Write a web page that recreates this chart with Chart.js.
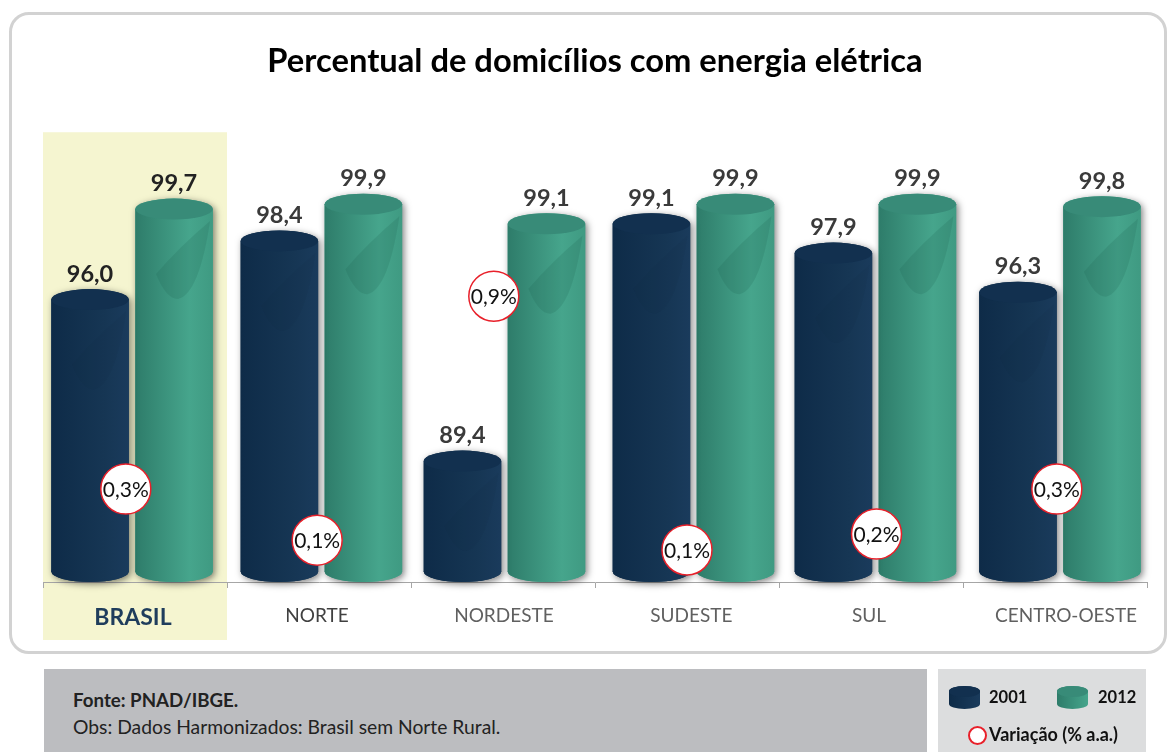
<!DOCTYPE html>
<html>
<head>
<meta charset="utf-8">
<title>Percentual de domicílios com energia elétrica</title>
<script src="https://cdn.jsdelivr.net/npm/chart.js@4"></script>
<style>
  html, body { margin: 0; padding: 0; background: #fff; }
  body { position: relative; width: 1168px; height: 752px; overflow: hidden; font-family: Lato, sans-serif; }
  #panel { position: absolute; left: 9px; top: 12px; width: 1152px; height: 636px; border: 3px solid #d2d2d2; border-radius: 20px; }
  #myChart { position: absolute; left: 0; top: 0; }
  #fonte { position: absolute; left: 44px; top: 669px; width: 883px; height: 83px; background: #bcbdc0; color: #222; font-size: 19.3px; }
  #fonte div { position: absolute; left: 29px; white-space: nowrap; }
  #legenda { position: absolute; left: 938px; top: 669px; width: 208px; height: 83px; background: #dcddde; color: #111; font-size: 16.5px; font-weight: bold; }
  #legenda span { position: absolute; white-space: nowrap; }
  .cyl { width: 31px; height: 23px; border-radius: 50% / 22%; }
  .cyl::before { content: ""; position: absolute; left: 0; top: 0; width: 31px; height: 11px; border-radius: 50%; }
  .navy { background: linear-gradient(90deg, #0e2b48, #1a3b5c); }
  .navy::before { background: #12304f; }
  .teal { background: linear-gradient(90deg, #2e7c6a, #46a58c); }
  .teal::before { background: #388b78; }
  .ring { width: 15px; height: 15px; border: 2px solid #e8202a; border-radius: 50%; background: #fff; }
</style>
</head>
<body>
<div id="panel"></div>
<canvas id="myChart" width="1168" height="752"></canvas>
<div id="fonte">
  <div style="top:20px;font-weight:bold;font-size:18.7px">Fonte: PNAD/IBGE.</div>
  <div style="top:46px">Obs: Dados Harmonizados: Brasil sem Norte Rural.</div>
</div>
<div id="legenda">
  <span class="cyl navy" style="left:11px;top:17px"></span>
  <span style="left:51px;top:18px">2001</span>
  <span class="cyl teal" style="left:119px;top:17px"></span>
  <span style="left:160px;top:18px">2012</span>
  <span class="ring" style="left:30px;top:57px"></span>
  <span style="left:51px;top:54px;font-size:18px">Variação (% a.a.)</span>
</div>

<script>
const regions = ['BRASIL', 'NORTE', 'NORDESTE', 'SUDESTE', 'SUL', 'CENTRO-OESTE'];
const values2001 = [96.0, 98.4, 89.4, 99.1, 97.9, 96.3];
const values2012 = [99.7, 99.9, 99.1, 99.9, 99.9, 99.8];
const variation = ['0,3%', '0,1%', '0,9%', '0,1%', '0,2%', '0,3%'];
// height of each bubble on the value axis
const bubbleLevel = [88.26, 86.17, 96.14, 85.77, 86.42, 88.26];
// the original is not evenly spaced: sideways nudges, as a share of a category
const bubbleNudge = [-0.05, -0.01, -0.05, 0, 0.03, 0.01];
const barNudge = [-0.016, 0.013, 0.008, 0.035, 0.024, 0.027];
const labelNudge = [-0.011, -0.011, 0.005, 0.024, -0.011, 0.06];

const axisMin = 84.46;
const axisMax = 102.84;
const cylinderBase = 84.89;
const capHeight = 10.5;
const catPercent = 0.913;
const barPercent = 0.923;

const palette = [
  { left: '#0e2b48', mid: '#163654', right: '#1a3b5c', cap: '#12304f', shine: 'rgba(10,30,50,0.06)' },
  { left: '#2e7c6a', mid: '#46a58c', right: '#3f9a82', cap: '#388b78', shine: 'rgba(30,95,80,0.18)' }
];

function bodyGradient(ctx, x, w, c) {
  const g = ctx.createLinearGradient(x - w / 2, 0, x + w / 2, 0);
  g.addColorStop(0, c.left);
  g.addColorStop(0.7, c.mid);
  g.addColorStop(1, c.right);
  return g;
}

function cylinderFill(context) {
  const chart = context.chart;
  const c = palette[context.datasetIndex];
  const scale = chart.scales.x;
  if (!scale || !scale.width) return c.mid;
  const catWidth = scale.width / regions.length;
  const slot = catWidth * catPercent / 2;
  const x = scale.getPixelForValue(context.dataIndex) + barNudge[context.dataIndex] * catWidth + (context.datasetIndex ? slot / 2 : -slot / 2);
  if (!isFinite(x)) return c.mid;
  return bodyGradient(chart.ctx, x, slot * barPercent, c);
}

const cylinderPlugin = {
  id: 'cylinders',
  afterDatasetsUpdate(chart) {
    const scale = chart.scales.x;
    const w = scale.width / regions.length;
    [0, 1].forEach(d => {
      chart.getDatasetMeta(d).data.forEach((bar, i) => { bar.x += barNudge[i] * w; });
    });
    chart.getDatasetMeta(2).data.forEach((pt, i) => { pt.x += bubbleNudge[i] * w; });
    scale.getLabelItems(chart.chartArea).forEach((item, i) => { item.options.translation[0] += labelNudge[i] * w; });
  },
  beforeDraw(chart) {
    // yellow band behind BRASIL
    const x = chart.scales.x;
    const ctx = chart.ctx;
    ctx.save();
    ctx.fillStyle = '#f5f5d0';
    ctx.fillRect(x.left, chart.chartArea.top, x.width / regions.length, x.bottom - chart.chartArea.top);
    ctx.restore();
  },
  beforeDatasetDraw(chart, args) {
    if (args.index > 1) return;
    // soft shadow of the whole cylinder silhouette
    const ctx = chart.ctx;
    args.meta.data.forEach(bar => {
      const hw = bar.width / 2;
      ctx.save();
      ctx.shadowColor = 'rgba(0,0,0,0.5)';
      ctx.shadowBlur = 7;
      ctx.shadowOffsetX = 2;
      ctx.shadowOffsetY = 2;
      ctx.fillStyle = palette[args.index].mid;
      ctx.beginPath();
      ctx.ellipse(bar.x, bar.y, hw, capHeight, 0, Math.PI, 0);
      ctx.lineTo(bar.x + hw, bar.base);
      ctx.ellipse(bar.x, bar.base, hw, capHeight, 0, 0, Math.PI);
      ctx.closePath();
      ctx.fill();
      ctx.restore();
    });
  },
  afterDatasetDraw(chart, args) {
    if (args.index > 1) return;
    const ctx = chart.ctx;
    const c = palette[args.index];
    args.meta.data.forEach(bar => {
      const hw = bar.width / 2;
      ctx.save();
      // curved reflection on the body
      ctx.fillStyle = c.shine;
      ctx.beginPath();
      ctx.moveTo(bar.x + 36, bar.y + 12);
      ctx.quadraticCurveTo(bar.x + 5, bar.y + 38, bar.x - 18, bar.y + 65);
      ctx.quadraticCurveTo(bar.x - 8, bar.y + 90, bar.x + 4, bar.y + 90);
      ctx.quadraticCurveTo(bar.x + 25, bar.y + 85, bar.x + 36, bar.y + 12);
      ctx.fill();
      // bottom and top of the cylinder
      ctx.fillStyle = bodyGradient(ctx, bar.x, bar.width, c);
      ctx.beginPath();
      ctx.ellipse(bar.x, bar.base, hw, capHeight, 0, 0, Math.PI * 2);
      ctx.fill();
      ctx.fillStyle = c.cap;
      ctx.beginPath();
      ctx.ellipse(bar.x, bar.y, hw, capHeight, 0, 0, Math.PI * 2);
      ctx.fill();
      ctx.restore();
    });
  },
  afterDatasetsDraw(chart) {
    const ctx = chart.ctx;
    ctx.save();
    ctx.textAlign = 'center';
    // value labels
    [values2001, values2012].forEach((vals, d) => {
      chart.getDatasetMeta(d).data.forEach((bar, i) => {
        ctx.font = 'bold 23.5px Lato';
        ctx.fillStyle = i === 0 ? '#222' : '#3a3a3a';
        ctx.textBaseline = 'alphabetic';
        ctx.fillText(vals[i].toFixed(1).replace('.', ','), bar.x, bar.y - 18);
      });
    });
    // text in the bubbles
    chart.getDatasetMeta(2).data.forEach((pt, i) => {
      ctx.font = '21px Lato';
      ctx.fillStyle = '#111';
      ctx.textBaseline = 'middle';
      ctx.fillText(variation[i], pt.x, pt.y + 1);
    });
    ctx.restore();
  }
};

const ctx = document.getElementById('myChart').getContext('2d');
let myChart = new Chart(ctx, {
  type: 'bar',
  plugins: [cylinderPlugin],
  data: {
    labels: regions,
    datasets: [
      { label: '2001', data: values2001, base: cylinderBase, backgroundColor: cylinderFill, clip: false, order: 2, categoryPercentage: catPercent, barPercentage: barPercent },
      { label: '2012', data: values2012, base: cylinderBase, backgroundColor: cylinderFill, clip: false, order: 2, categoryPercentage: catPercent, barPercentage: barPercent },
      {
        type: 'line', label: 'Variação (% a.a.)', order: 1, clip: false, showLine: false,
        data: bubbleLevel,
        pointRadius: 25, pointHoverRadius: 25, pointBackgroundColor: '#fff', pointBorderColor: '#e8202a', pointBorderWidth: 1.5
      }
    ]
  },
  options: {
    responsive: false,
    animation: false,
    layout: { autoPadding: false, padding: { left: 43, right: 21, top: 0, bottom: 112 } },
    plugins: {
      legend: { display: false },
      tooltip: { enabled: false },
      title: {
        display: true,
        text: 'Percentual de domicílios com energia elétrica',
        color: '#000',
        fullSize: false,
        font: { family: 'Lato', size: 32.7, weight: 'bold', lineHeight: 1.2 },
        padding: { top: 42, bottom: 51 }
      }
    },
    scales: {
      x: {
        grid: { drawOnChartArea: false, drawTicks: true, tickLength: 6, color: '#a6a6a6', offset: true },
        border: { color: '#a6a6a6' },
        afterFit(scale) { scale.height = 58; },
        ticks: {
          autoSkip: false,
          maxRotation: 0,
          padding: 16,
          color: c => c.index === 0 ? '#1f3d5c' : (c.index === 1 ? '#404040' : '#606060'),
          font: c => c.index === 0 ? { family: 'Lato', size: 23, weight: 'bold' } : { family: 'Lato', size: 19 }
        }
      },
      y: { display: false, min: axisMin, max: axisMax }
    }
  }
});
</script>
</body>
</html>
